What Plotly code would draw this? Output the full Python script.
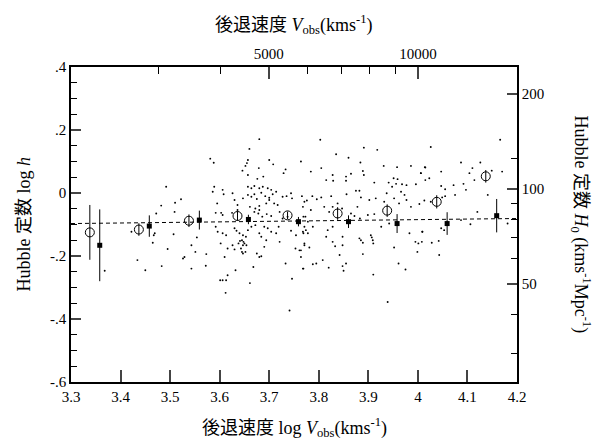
import numpy as np
import plotly.graph_objects as go

# ---------------- data ----------------
dots_x = [3.492,3.482,3.510,3.522,3.472,3.509,3.469,3.507,3.434,3.368,3.450,3.483,3.495,3.465,3.467,3.526,3.422,
 3.680,3.660,3.581,3.588,3.700,3.708,3.657,3.655,3.652,3.646,3.657,3.679,3.733,3.729,3.688,3.676,3.589,3.586,3.606,3.608,
 3.657,3.664,3.670,3.680,3.687,3.697,3.704,3.714,3.657,3.664,3.670,3.675,3.684,3.692,3.700,3.707,
 3.626,3.630,3.647,3.636,3.661,3.672,3.680,3.700,3.710,3.717,3.694,3.727,3.735,3.744,3.746,3.771,
 3.595,3.592,3.603,3.606,3.625,3.636,3.678,3.686,3.695,3.704,3.670,3.680,3.721,3.727,3.737,3.768,3.773,3.771,3.778,
 3.554,3.592,3.596,3.606,3.613,3.630,3.634,3.640,3.647,3.653,3.657,3.664,3.672,3.680,3.684,3.697,3.704,3.714,3.690,3.719,
 3.744,3.754,3.769,3.774,
 3.543,3.551,3.529,3.543,3.573,3.572,3.602,3.610,3.616,3.626,3.630,3.638,3.641,3.643,3.645,3.648,3.647,3.650,3.652,3.654,3.645,3.647,
 3.675,3.680,3.684,3.668,3.690,3.694,3.721,3.733,3.746,3.753,3.761,3.764,3.771,3.769,3.616,3.613,3.601,3.606,3.612,3.632,3.661,3.741,
 3.803,3.891,3.918,3.835,3.860,3.764,3.884,3.805,3.784,3.889,3.891,3.865,3.855,3.828,3.815,3.829,3.855,3.931,3.958,3.986,4.015,4.006,
 3.912,3.951,3.959,3.941,3.956,3.948,3.968,3.977,3.996,4.015,3.875,3.882,3.856,3.885,
 3.766,3.776,3.787,3.796,3.805,3.811,3.825,3.838,3.828,3.847,3.821,3.878,3.902,3.915,3.937,3.932,3.952,3.966,3.973,3.977,3.962,3.986,
 3.784,3.769,3.788,3.778,3.768,3.818,3.828,3.815,3.865,3.872,3.883,3.899,3.912,3.848,3.882,3.905,3.909,3.926,3.942,3.983,4.009,
 3.764,3.781,3.771,3.828,3.848,3.833,3.842,3.808,3.788,3.795,3.768,3.820,3.848,3.855,3.850,3.885,3.889,3.907,3.910,3.889,3.910,
 3.952,3.939,3.961,3.975,3.995,4.001,3.999,
 4.166,4.026,4.087,4.126,4.014,4.110,4.047,4.149,4.170,4.104,4.006,4.023,4.114,4.047,4.055,4.072,4.092,4.075,4.097,4.141,
 4.055,4.049,4.013,4.026,4.003,4.120,4.087,4.181,4.106,4.047,4.053,4.009,4.008,4.028,4.042,4.043]
dots_y = [0.020,-0.040,-0.031,-0.020,-0.065,-0.060,-0.128,-0.131,-0.213,-0.247,-0.245,-0.232,-0.178,-0.158,-0.134,-0.208,-0.123,
 0.171,0.140,0.109,0.096,0.105,0.091,0.105,0.095,0.086,0.071,0.057,0.079,0.075,0.063,0.052,0.045,0.020,0.004,0.010,-0.004,
 0.020,0.015,0.022,0.015,0.020,0.015,0.010,0.004,-0.006,-0.012,-0.004,-0.019,0.001,-0.010,-0.015,-0.004,
 -0.001,-0.022,-0.017,-0.038,-0.044,-0.049,-0.041,-0.022,-0.033,-0.038,-0.033,-0.012,-0.010,-0.001,-0.017,-0.028,
 -0.033,-0.063,-0.063,-0.070,-0.063,-0.054,-0.065,-0.075,-0.067,-0.073,-0.060,-0.054,-0.060,-0.081,-0.075,-0.044,-0.075,-0.107,-0.091,
 -0.141,-0.107,-0.123,-0.128,-0.134,-0.112,-0.120,-0.128,-0.134,-0.139,-0.118,-0.107,-0.102,-0.128,-0.139,-0.112,-0.123,-0.128,-0.107,-0.107,
 -0.120,-0.134,-0.128,-0.118,
 -0.166,-0.187,-0.203,-0.240,-0.194,-0.231,-0.160,-0.203,-0.176,-0.166,-0.179,-0.160,-0.152,-0.176,-0.150,-0.155,-0.166,-0.160,-0.187,-0.166,-0.187,-0.192,
 -0.192,-0.203,-0.201,-0.235,-0.171,-0.150,-0.155,-0.224,-0.272,-0.176,-0.182,-0.203,-0.166,-0.240,-0.261,-0.277,-0.277,-0.277,-0.317,-0.245,-0.286,-0.373,
 0.169,0.144,0.137,0.123,0.112,0.100,0.097,0.079,0.068,0.070,0.057,0.061,0.052,0.057,0.041,0.039,0.039,0.086,0.082,0.086,0.081,0.063,
 0.033,0.047,0.044,0.033,0.029,0.020,0.028,0.025,0.028,0.041,0.007,0.007,-0.004,-0.014,
 -0.010,-0.024,-0.010,-0.020,-0.014,-0.044,-0.010,-0.033,-0.044,-0.049,-0.060,-0.044,-0.022,-0.017,-0.001,-0.028,-0.017,0.004,-0.006,-0.022,-0.033,-0.044,
 -0.054,-0.075,-0.107,-0.128,-0.123,-0.118,-0.107,-0.139,-0.065,-0.073,-0.081,-0.070,-0.067,-0.139,-0.144,-0.134,-0.150,-0.107,-0.097,-0.128,-0.123,
 -0.182,-0.173,-0.160,-0.155,-0.166,-0.169,-0.197,-0.213,-0.226,-0.224,-0.240,-0.237,-0.232,-0.224,-0.247,-0.150,-0.158,-0.141,-0.160,-0.194,-0.259,
 -0.173,-0.346,-0.224,-0.243,-0.155,-0.160,-0.187,
 0.169,0.146,0.097,0.097,0.082,0.079,0.068,0.071,0.068,0.063,0.063,0.047,0.041,0.022,0.012,0.025,0.029,-0.006,0.010,-0.006,
 -0.010,-0.014,-0.024,-0.028,-0.035,-0.060,-0.086,-0.097,-0.099,-0.112,-0.118,-0.123,-0.155,-0.158,-0.152,-0.197]

open_x = [3.338, 3.437, 3.538, 3.636, 3.737, 3.838, 3.938, 4.038, 4.137]
open_y = [-0.125, -0.116, -0.088, -0.073, -0.071, -0.065, -0.056, -0.028, 0.053]
open_err = [0.087, 0.020, 0.020, 0.015, 0.012, 0.020, 0.020, 0.021, 0.020]

filled_x = [3.358, 3.458, 3.559, 3.658, 3.759, 3.860, 3.958, 4.059, 4.159]
filled_y = [-0.166, -0.105, -0.086, -0.084, -0.091, -0.091, -0.097, -0.097, -0.072]
filled_err = [0.114, 0.034, 0.030, 0.015, 0.015, 0.020, 0.030, 0.036, 0.053]

fit_x = [3.3, 4.2]
fit_y = [-0.097, -0.081]

x_ticks = [3.3, 3.4, 3.5, 3.6, 3.7, 3.8, 3.9, 4.0, 4.1, 4.2]
x_ticktext = ["3.3", "3.4", "3.5", "3.6", "3.7", "3.8", "3.9", "4", "4.1", "4.2"]
y_ticks = [0.4, 0.2, 0.0, -0.2, -0.4, -0.6]
y_ticktext = [".4", ".2", "0", "-.2", "-.4", "-.6"]
top_major = [5000, 10000]
top_minor = [2000, 3000, 4000, 6000, 7000, 8000, 9000]
right_major = [50, 100, 200]
right_minor = [30, 40, 60, 70, 80, 90, 125]

FONT = "Liberation Serif, Times New Roman, Noto Sans CJK JP, serif"
BLACK = "black"

fig = go.Figure()
fig.add_trace(go.Scatter(x=dots_x, y=dots_y, mode="markers",
                         marker=dict(size=1.9, color=BLACK), showlegend=False, hoverinfo="skip"))
fig.add_trace(go.Scatter(x=fit_x, y=fit_y, mode="lines",
                         line=dict(color=BLACK, width=1, dash="4px,3px"), showlegend=False))
fig.add_trace(go.Scatter(x=open_x, y=open_y, mode="markers",
                         marker=dict(symbol="circle-open", size=9, color=BLACK, line=dict(width=1)),
                         error_y=dict(type="data", array=open_err, color=BLACK, thickness=1, width=0),
                         showlegend=False))
fig.add_trace(go.Scatter(x=filled_x, y=filled_y, mode="markers",
                         marker=dict(symbol="square", size=5, color=BLACK),
                         error_y=dict(type="data", array=filled_err, color=BLACK, thickness=1, width=0),
                         showlegend=False))
# invisible trace to bind secondary axes
fig.add_trace(go.Scatter(x=top_major, y=right_major[1:], mode="markers", xaxis="x2", yaxis="y2",
                         marker=dict(opacity=0), showlegend=False, hoverinfo="skip"))

L, R, T, B = 71, 80, 67, 62
fig.update_layout(
    width=597, height=444, paper_bgcolor="white", plot_bgcolor="white",
    margin=dict(l=L, r=R, t=T, b=B),
    font=dict(family=FONT, size=15, color=BLACK),
    xaxis=dict(range=[3.3, 4.2], tickvals=x_ticks, ticktext=x_ticktext, ticks="inside", ticklen=12,
               tickwidth=1.5, showline=True, linewidth=1.5, linecolor=BLACK, showgrid=False, zeroline=False,
               tickfont=dict(size=15)),
    yaxis=dict(range=[-0.6, 0.4], tickvals=y_ticks, ticktext=y_ticktext, ticks="inside", ticklen=10,
               tickwidth=1.5, showline=True, linewidth=1.5, linecolor=BLACK, showgrid=False, zeroline=False,
               minor=dict(dtick=0.05, tick0=0, ticks="inside", ticklen=6, tickwidth=1, tickcolor=BLACK),
               tickfont=dict(size=15)),
    xaxis2=dict(type="log", overlaying="x", side="top", anchor="y", range=[3.3, 4.2],
                tickvals=top_major, ticktext=[str(v) for v in top_major], ticks="inside", ticklen=12,
                tickwidth=1.5, showline=True, linewidth=1.5, linecolor=BLACK, showgrid=False,
                minor=dict(tickmode="array", tickvals=top_minor, ticks="inside", ticklen=7, tickwidth=1,
                           tickcolor=BLACK),
                tickfont=dict(size=15)),
    yaxis2=dict(type="log", overlaying="y", side="right", anchor="x", range=[1.387, 2.387],
                tickvals=right_major, ticktext=[str(v) for v in right_major], ticks="inside", ticklen=10,
                tickwidth=1.5, showline=True, linewidth=1.5, linecolor=BLACK, showgrid=False,
                minor=dict(tickmode="array", tickvals=right_minor, ticks="inside", ticklen=6, tickwidth=1,
                           tickcolor=BLACK),
                tickfont=dict(size=15)),
)

ann = dict(showarrow=False, font=dict(family=FONT, size=18, color=BLACK))
fig.add_annotation(text="後退速度 <i>V</i><sub>obs</sub>(kms<sup>-1</sup>)", x=0.5, y=1, xref="paper", yref="paper",
                   yshift=43, xanchor="center", yanchor="middle", **ann)
fig.add_annotation(text="後退速度 log <i>V</i><sub>obs</sub>(kms<sup>-1</sup>)", x=0.5, y=0, xref="paper", yref="paper",
                   yshift=-45, xanchor="center", yanchor="middle", **ann)
fig.add_annotation(text="Hubble 定数 log <i>h</i>", x=0, y=0.5, xref="paper", yref="paper",
                   xshift=-48, textangle=-90, xanchor="center", yanchor="middle", **ann)
fig.add_annotation(text="Hubble 定数 <i>H</i><sub>0</sub> (kms<sup>-1</sup>Mpc<sup>-1</sup>)", x=1, y=0.5,
                   xref="paper", yref="paper", xshift=64, textangle=90, xanchor="center", yanchor="middle", **ann)

fig.write_html("out.html")
